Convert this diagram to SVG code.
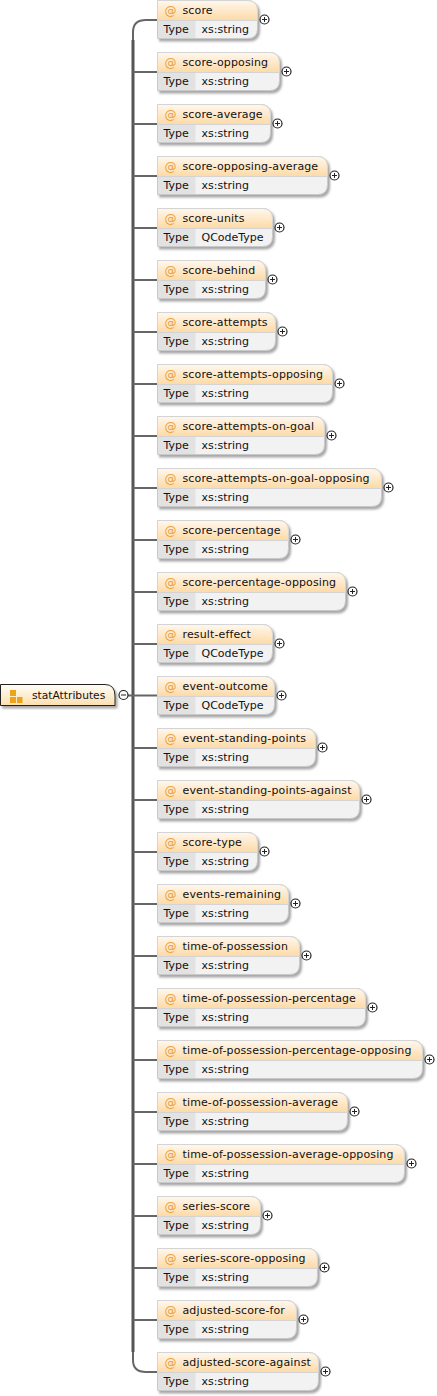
<svg xmlns="http://www.w3.org/2000/svg" width="437" height="1396" viewBox="0 0 437 1396">
<style>
text{font-family:"DejaVu Sans",sans-serif;font-size:11px;fill:#111}
.at{fill:#e9a13b;font-size:12px}
.n{letter-spacing:.13px}
.b{fill:#f2f2f2;stroke:#c9c9c9;stroke-width:1;filter:url(#sh)}
.h{fill:url(#hg);stroke:#d4d4d4;stroke-width:1}
.t{fill:#e2e2e2}
.trunk{fill:none;stroke:#555;stroke-width:3}
.br{fill:none;stroke:#666;stroke-width:2}
.c{fill:#fff;stroke:#222;stroke-width:1.2}
.p{stroke:#222;stroke-width:1;fill:none}
</style>
<defs>
<linearGradient id="hg" x1="0" y1="0" x2="0" y2="1"><stop offset="0" stop-color="#fff8ee"/><stop offset="1" stop-color="#fdd9a6"/></linearGradient>
<linearGradient id="rg" x1="0" y1="0" x2="0" y2="1"><stop offset="0" stop-color="#fffdf8"/><stop offset="1" stop-color="#fddfae"/></linearGradient>
<filter id="sh" x="-5%" y="-5%" width="112%" height="125%"><feDropShadow dx="2" dy="2.5" stdDeviation="0.9" flood-color="#777" flood-opacity="0.65"/></filter>
<g id="plus"><circle class="c" r="4.5"/><path class="p" d="M-2.5 0H2.5M0-2.5V2.5"/></g>
</defs>
<g id="connectors">
<path class="br" d="M157 20H146Q133 20 133 32V72M133 1330V1360Q133 1372 146 1372H157"/>
<path class="trunk" d="M133 40V1352"/>
<path class="br" d="M128 695.500H157M133 72H157M133 124H157M133 176H157M133 228H157M133 280H157M133 332H157M133 384H157M133 436H157M133 488H157M133 540H157M133 592H157M133 644H157M133 748H157M133 800H157M133 852H157M133 904H157M133 956H157M133 1008H157M133 1060H157M133 1112H157M133 1164H157M133 1216H157M133 1268H157M133 1320H157"/>
</g>
<g id="statAttributes">
<path d="M0.5 684.500H105Q115 684.500 115 696V705.500H0.5Z" fill="url(#rg)" stroke="#222" filter="url(#sh)"/>
<path fill="#eda41a" d="M10 690h6v6h-6zM10 697h6v6h-6zM17 697h5.500v6h-5.500z"/>
<text x="32" y="699" style="font-size:10.700px">statAttributes</text>
<circle class="c" cx="123.500" cy="695" r="4.500"/><path class="p" d="M121 695H126"/>
</g>
<g id="n1" transform="translate(157.500 0.500)"><path class="b" d="M0 0H90Q100 0 100 10V28Q100 38 90 38H0Z"/><path class="h" d="M0 0H90Q100 0 100 10V20H0Z"/><rect class="t" x="0.500" y="20.500" width="37.500" height="17"/><text class="at" x="7" y="14">@</text><text class="n" x="25" y="13">score</text><text x="6" y="32">Type</text><text x="44" y="32">xs:string</text><use href="#plus" x="107" y="19"/></g>
<g id="n2" transform="translate(157.500 52.500)"><path class="b" d="M0 0H112Q122 0 122 10V28Q122 38 112 38H0Z"/><path class="h" d="M0 0H112Q122 0 122 10V20H0Z"/><rect class="t" x="0.500" y="20.500" width="37.500" height="17"/><text class="at" x="7" y="14">@</text><text class="n" x="25" y="13">score-opposing</text><text x="6" y="32">Type</text><text x="44" y="32">xs:string</text><use href="#plus" x="129" y="19"/></g>
<g id="n3" transform="translate(157.500 104.500)"><path class="b" d="M0 0H103Q113 0 113 10V28Q113 38 103 38H0Z"/><path class="h" d="M0 0H103Q113 0 113 10V20H0Z"/><rect class="t" x="0.500" y="20.500" width="37.500" height="17"/><text class="at" x="7" y="14">@</text><text class="n" x="25" y="13">score-average</text><text x="6" y="32">Type</text><text x="44" y="32">xs:string</text><use href="#plus" x="120" y="19"/></g>
<g id="n4" transform="translate(157.500 156.500)"><path class="b" d="M0 0H160Q170 0 170 10V28Q170 38 160 38H0Z"/><path class="h" d="M0 0H160Q170 0 170 10V20H0Z"/><rect class="t" x="0.500" y="20.500" width="37.500" height="17"/><text class="at" x="7" y="14">@</text><text class="n" x="25" y="13">score-opposing-average</text><text x="6" y="32">Type</text><text x="44" y="32">xs:string</text><use href="#plus" x="177" y="19"/></g>
<g id="n5" transform="translate(157.500 208.500)"><path class="b" d="M0 0H105Q115 0 115 10V28Q115 38 105 38H0Z"/><path class="h" d="M0 0H105Q115 0 115 10V20H0Z"/><rect class="t" x="0.500" y="20.500" width="37.500" height="17"/><text class="at" x="7" y="14">@</text><text class="n" x="25" y="13">score-units</text><text x="6" y="32">Type</text><text x="44" y="32">QCodeType</text><use href="#plus" x="122" y="19"/></g>
<g id="n6" transform="translate(157.500 260.500)"><path class="b" d="M0 0H98Q108 0 108 10V28Q108 38 98 38H0Z"/><path class="h" d="M0 0H98Q108 0 108 10V20H0Z"/><rect class="t" x="0.500" y="20.500" width="37.500" height="17"/><text class="at" x="7" y="14">@</text><text class="n" x="25" y="13">score-behind</text><text x="6" y="32">Type</text><text x="44" y="32">xs:string</text><use href="#plus" x="115" y="19"/></g>
<g id="n7" transform="translate(157.500 312.500)"><path class="b" d="M0 0H108Q118 0 118 10V28Q118 38 108 38H0Z"/><path class="h" d="M0 0H108Q118 0 118 10V20H0Z"/><rect class="t" x="0.500" y="20.500" width="37.500" height="17"/><text class="at" x="7" y="14">@</text><text class="n" x="25" y="13">score-attempts</text><text x="6" y="32">Type</text><text x="44" y="32">xs:string</text><use href="#plus" x="125" y="19"/></g>
<g id="n8" transform="translate(157.500 364.500)"><path class="b" d="M0 0H165Q175 0 175 10V28Q175 38 165 38H0Z"/><path class="h" d="M0 0H165Q175 0 175 10V20H0Z"/><rect class="t" x="0.500" y="20.500" width="37.500" height="17"/><text class="at" x="7" y="14">@</text><text class="n" x="25" y="13">score-attempts-opposing</text><text x="6" y="32">Type</text><text x="44" y="32">xs:string</text><use href="#plus" x="182" y="19"/></g>
<g id="n9" transform="translate(157.500 416.500)"><path class="b" d="M0 0H157Q167 0 167 10V28Q167 38 157 38H0Z"/><path class="h" d="M0 0H157Q167 0 167 10V20H0Z"/><rect class="t" x="0.500" y="20.500" width="37.500" height="17"/><text class="at" x="7" y="14">@</text><text class="n" x="25" y="13">score-attempts-on-goal</text><text x="6" y="32">Type</text><text x="44" y="32">xs:string</text><use href="#plus" x="174" y="19"/></g>
<g id="n10" transform="translate(157.500 468.500)"><path class="b" d="M0 0H214Q224 0 224 10V28Q224 38 214 38H0Z"/><path class="h" d="M0 0H214Q224 0 224 10V20H0Z"/><rect class="t" x="0.500" y="20.500" width="37.500" height="17"/><text class="at" x="7" y="14">@</text><text class="n" x="25" y="13">score-attempts-on-goal-opposing</text><text x="6" y="32">Type</text><text x="44" y="32">xs:string</text><use href="#plus" x="231" y="19"/></g>
<g id="n11" transform="translate(157.500 520.500)"><path class="b" d="M0 0H121Q131 0 131 10V28Q131 38 121 38H0Z"/><path class="h" d="M0 0H121Q131 0 131 10V20H0Z"/><rect class="t" x="0.500" y="20.500" width="37.500" height="17"/><text class="at" x="7" y="14">@</text><text class="n" x="25" y="13">score-percentage</text><text x="6" y="32">Type</text><text x="44" y="32">xs:string</text><use href="#plus" x="138" y="19"/></g>
<g id="n12" transform="translate(157.500 572.500)"><path class="b" d="M0 0H178Q188 0 188 10V28Q188 38 178 38H0Z"/><path class="h" d="M0 0H178Q188 0 188 10V20H0Z"/><rect class="t" x="0.500" y="20.500" width="37.500" height="17"/><text class="at" x="7" y="14">@</text><text class="n" x="25" y="13">score-percentage-opposing</text><text x="6" y="32">Type</text><text x="44" y="32">xs:string</text><use href="#plus" x="195" y="19"/></g>
<g id="n13" transform="translate(157.500 624.500)"><path class="b" d="M0 0H105Q115 0 115 10V28Q115 38 105 38H0Z"/><path class="h" d="M0 0H105Q115 0 115 10V20H0Z"/><rect class="t" x="0.500" y="20.500" width="37.500" height="17"/><text class="at" x="7" y="14">@</text><text class="n" x="25" y="13">result-effect</text><text x="6" y="32">Type</text><text x="44" y="32">QCodeType</text><use href="#plus" x="122" y="19"/></g>
<g id="n14" transform="translate(157.500 676.500)"><path class="b" d="M0 0H107Q117 0 117 10V28Q117 38 107 38H0Z"/><path class="h" d="M0 0H107Q117 0 117 10V20H0Z"/><rect class="t" x="0.500" y="20.500" width="37.500" height="17"/><text class="at" x="7" y="14">@</text><text class="n" x="25" y="13">event-outcome</text><text x="6" y="32">Type</text><text x="44" y="32">QCodeType</text><use href="#plus" x="124" y="19"/></g>
<g id="n15" transform="translate(157.500 728.500)"><path class="b" d="M0 0H148Q158 0 158 10V28Q158 38 148 38H0Z"/><path class="h" d="M0 0H148Q158 0 158 10V20H0Z"/><rect class="t" x="0.500" y="20.500" width="37.500" height="17"/><text class="at" x="7" y="14">@</text><text class="n" x="25" y="13">event-standing-points</text><text x="6" y="32">Type</text><text x="44" y="32">xs:string</text><use href="#plus" x="165" y="19"/></g>
<g id="n16" transform="translate(157.500 780.500)"><path class="b" d="M0 0H192Q202 0 202 10V28Q202 38 192 38H0Z"/><path class="h" d="M0 0H192Q202 0 202 10V20H0Z"/><rect class="t" x="0.500" y="20.500" width="37.500" height="17"/><text class="at" x="7" y="14">@</text><text class="n" x="25" y="13">event-standing-points-against</text><text x="6" y="32">Type</text><text x="44" y="32">xs:string</text><use href="#plus" x="209" y="19"/></g>
<g id="n17" transform="translate(157.500 832.500)"><path class="b" d="M0 0H90Q100 0 100 10V28Q100 38 90 38H0Z"/><path class="h" d="M0 0H90Q100 0 100 10V20H0Z"/><rect class="t" x="0.500" y="20.500" width="37.500" height="17"/><text class="at" x="7" y="14">@</text><text class="n" x="25" y="13">score-type</text><text x="6" y="32">Type</text><text x="44" y="32">xs:string</text><use href="#plus" x="107" y="19"/></g>
<g id="n18" transform="translate(157.500 884.500)"><path class="b" d="M0 0H121Q131 0 131 10V28Q131 38 121 38H0Z"/><path class="h" d="M0 0H121Q131 0 131 10V20H0Z"/><rect class="t" x="0.500" y="20.500" width="37.500" height="17"/><text class="at" x="7" y="14">@</text><text class="n" x="25" y="13">events-remaining</text><text x="6" y="32">Type</text><text x="44" y="32">xs:string</text><use href="#plus" x="138" y="19"/></g>
<g id="n19" transform="translate(157.500 936.500)"><path class="b" d="M0 0H132Q142 0 142 10V28Q142 38 132 38H0Z"/><path class="h" d="M0 0H132Q142 0 142 10V20H0Z"/><rect class="t" x="0.500" y="20.500" width="37.500" height="17"/><text class="at" x="7" y="14">@</text><text class="n" x="25" y="13">time-of-possession</text><text x="6" y="32">Type</text><text x="44" y="32">xs:string</text><use href="#plus" x="149" y="19"/></g>
<g id="n20" transform="translate(157.500 988.500)"><path class="b" d="M0 0H198Q208 0 208 10V28Q208 38 198 38H0Z"/><path class="h" d="M0 0H198Q208 0 208 10V20H0Z"/><rect class="t" x="0.500" y="20.500" width="37.500" height="17"/><text class="at" x="7" y="14">@</text><text class="n" x="25" y="13">time-of-possession-percentage</text><text x="6" y="32">Type</text><text x="44" y="32">xs:string</text><use href="#plus" x="215" y="19"/></g>
<g id="n21" transform="translate(157.500 1040.500)"><path class="b" d="M0 0H255Q265 0 265 10V28Q265 38 255 38H0Z"/><path class="h" d="M0 0H255Q265 0 265 10V20H0Z"/><rect class="t" x="0.500" y="20.500" width="37.500" height="17"/><text class="at" x="7" y="14">@</text><text class="n" x="25" y="13">time-of-possession-percentage-opposing</text><text x="6" y="32">Type</text><text x="44" y="32">xs:string</text><use href="#plus" x="272" y="19"/></g>
<g id="n22" transform="translate(157.500 1092.500)"><path class="b" d="M0 0H180Q190 0 190 10V28Q190 38 180 38H0Z"/><path class="h" d="M0 0H180Q190 0 190 10V20H0Z"/><rect class="t" x="0.500" y="20.500" width="37.500" height="17"/><text class="at" x="7" y="14">@</text><text class="n" x="25" y="13">time-of-possession-average</text><text x="6" y="32">Type</text><text x="44" y="32">xs:string</text><use href="#plus" x="197" y="19"/></g>
<g id="n23" transform="translate(157.500 1144.500)"><path class="b" d="M0 0H237Q247 0 247 10V28Q247 38 237 38H0Z"/><path class="h" d="M0 0H237Q247 0 247 10V20H0Z"/><rect class="t" x="0.500" y="20.500" width="37.500" height="17"/><text class="at" x="7" y="14">@</text><text class="n" x="25" y="13">time-of-possession-average-opposing</text><text x="6" y="32">Type</text><text x="44" y="32">xs:string</text><use href="#plus" x="254" y="19"/></g>
<g id="n24" transform="translate(157.500 1196.500)"><path class="b" d="M0 0H93Q103 0 103 10V28Q103 38 93 38H0Z"/><path class="h" d="M0 0H93Q103 0 103 10V20H0Z"/><rect class="t" x="0.500" y="20.500" width="37.500" height="17"/><text class="at" x="7" y="14">@</text><text class="n" x="25" y="13">series-score</text><text x="6" y="32">Type</text><text x="44" y="32">xs:string</text><use href="#plus" x="110" y="19"/></g>
<g id="n25" transform="translate(157.500 1248.500)"><path class="b" d="M0 0H150Q160 0 160 10V28Q160 38 150 38H0Z"/><path class="h" d="M0 0H150Q160 0 160 10V20H0Z"/><rect class="t" x="0.500" y="20.500" width="37.500" height="17"/><text class="at" x="7" y="14">@</text><text class="n" x="25" y="13">series-score-opposing</text><text x="6" y="32">Type</text><text x="44" y="32">xs:string</text><use href="#plus" x="167" y="19"/></g>
<g id="n26" transform="translate(157.500 1300.500)"><path class="b" d="M0 0H129Q139 0 139 10V28Q139 38 129 38H0Z"/><path class="h" d="M0 0H129Q139 0 139 10V20H0Z"/><rect class="t" x="0.500" y="20.500" width="37.500" height="17"/><text class="at" x="7" y="14">@</text><text class="n" x="25" y="13">adjusted-score-for</text><text x="6" y="32">Type</text><text x="44" y="32">xs:string</text><use href="#plus" x="146" y="19"/></g>
<g id="n27" transform="translate(157.500 1352.500)"><path class="b" d="M0 0H151Q161 0 161 10V28Q161 38 151 38H0Z"/><path class="h" d="M0 0H151Q161 0 161 10V20H0Z"/><rect class="t" x="0.500" y="20.500" width="37.500" height="17"/><text class="at" x="7" y="14">@</text><text class="n" x="25" y="13">adjusted-score-against</text><text x="6" y="32">Type</text><text x="44" y="32">xs:string</text><use href="#plus" x="168" y="19"/></g>
</svg>
